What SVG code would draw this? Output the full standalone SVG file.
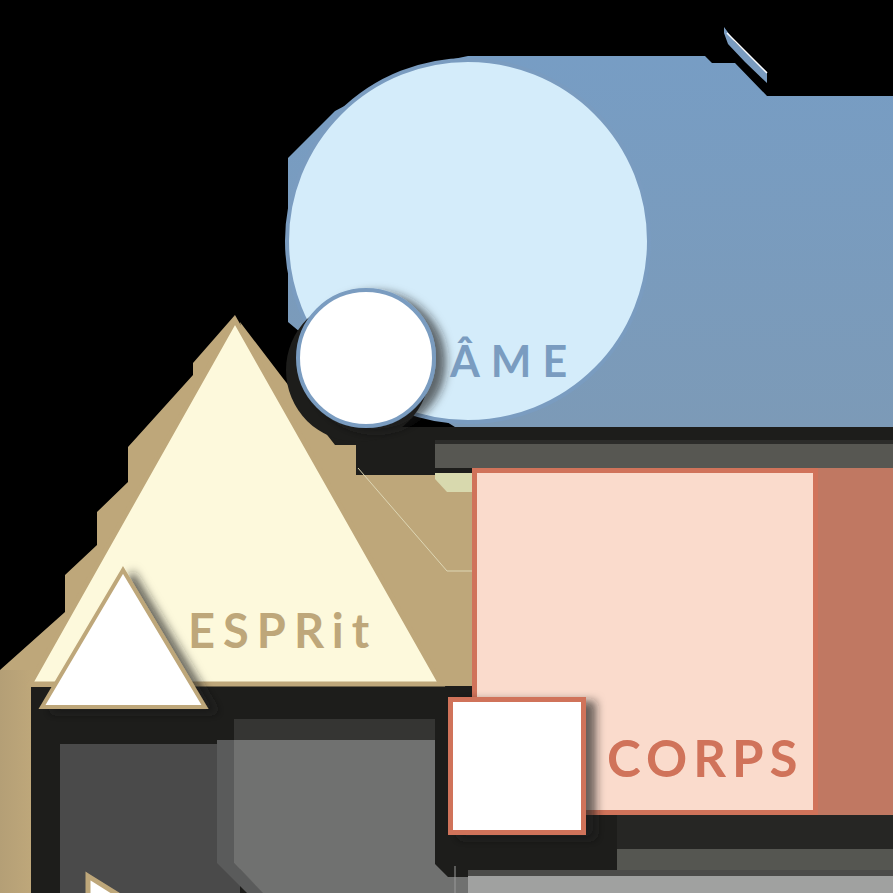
<svg xmlns="http://www.w3.org/2000/svg" width="893" height="893" viewBox="0 0 893 893">
<defs>
<style>
.lbl{font-family:Lato,"Liberation Sans",sans-serif;font-weight:700}
</style>
<linearGradient id="blueExt" x1="0" y1="0" x2="0" y2="1">
<stop offset="0" stop-color="#779dc4"/><stop offset="1" stop-color="#7c9ab7"/>
</linearGradient>
<linearGradient id="tanStrip" x1="0" y1="0" x2="1" y2="0">
<stop offset="0" stop-color="#b49f76"/><stop offset="1" stop-color="#bea77a"/>
</linearGradient>
<filter id="soft" x="-30%" y="-30%" width="160%" height="160%">
<feDropShadow dx="10" dy="4" stdDeviation="5" flood-color="#1d1d1b" flood-opacity="0.65"/>
</filter>
</defs>

<rect x="0" y="0" width="893" height="893" fill="#000"/>

<!-- blue extrusion -->
<polygon fill="url(#blueExt)" points="288,322 288,158 335,111 420,66 468,56 705,56 712,63 735,63 767,96 893,96 893,427 455,427 300,332"/>
<polygon fill="#7a9cc0" points="724,27 735,42 767,72 767,83 745,62 728,44 724,33"/>
<line x1="727" y1="33" x2="767" y2="73" stroke="#fff" stroke-width="1.5"/>

<!-- dark shadow base -->
<polygon fill="#1d1d1b" points="283,427 893,427 893,893 31,893 31,685 283,685"/>

<!-- tan extrusion of triangle -->
<polygon fill="#bea77a" points="235,315 193,363 193,375 128,447 128,482 97,512 97,545 65,575 65,612 0,670 0,893 31,893 31,687 120,687"/>
<rect x="0" y="670" width="31" height="223" fill="url(#tanStrip)"/>
<polygon fill="#bea77a" points="240,322 282,377 335,445 356,445 356,475 472,475 472,686 300,686"/>
<polygon fill="#d8d9ae" points="435,473 472,473 472,492 447,492 435,479"/>
<polyline points="358,468 447,571 472,571" fill="none" stroke="#ddd6b4" stroke-width="1"/>

<!-- bottom greys -->
<rect x="60" y="744" width="180" height="149" fill="#4a4a4a"/>
<rect x="234" y="719" width="201" height="21" fill="#353533"/>
<polygon fill="#5a5b5b" points="217,740 234,740 234,863 264,893 247,893 217,863"/>
<polygon fill="#707170" points="234,740 435,740 435,864 448,877 468,877 468,893 263,893 234,863"/>
<line x1="455" y1="866" x2="455" y2="893" stroke="#9a9b9a" stroke-width="1"/>
<rect x="617" y="815" width="276" height="34" fill="#262624"/>
<rect x="617" y="849" width="276" height="24" fill="#555651"/>
<rect x="468" y="870" width="425" height="6" fill="#4b4b49"/>
<rect x="468" y="876" width="425" height="17" fill="#a0a1a0"/>
<polygon fill="#fff" stroke="#bea77a" stroke-width="5" points="88,876 120,896 88,896"/>

<!-- grey band above square and coral extrusion -->
<rect x="435" y="440" width="458" height="28" fill="#575752"/>
<rect x="435" y="440" width="458" height="4" fill="#2c2c2a"/>
<rect x="818" y="468" width="75" height="347" fill="#c07862"/>

<!-- AME node -->
<g id="node-ame">
<circle cx="468" cy="241" r="181" fill="#d4ecfa" stroke="#7a9cc0" stroke-width="4"/>
<circle cx="358" cy="370" r="72" fill="#1d1d1b"/>
<circle cx="366" cy="358" r="68" fill="#fff" stroke="#7a9cc0" stroke-width="4" filter="url(#soft)"/>
<text class="lbl" x="450" y="377" font-size="43" letter-spacing="11" fill="#7a9cc0">ÂME</text>
</g>

<!-- ESPRIT node -->
<g id="node-esprit">
<polygon points="235,320 30,684 441,684" fill="#fdf9dc" stroke="#bea77a" stroke-width="5"/>
<polygon points="123,570 42,707 205,707" fill="#fff" stroke="#bea77a" stroke-width="4" filter="url(#soft)"/>
<text class="lbl" x="188" y="648" font-size="47" letter-spacing="8" fill="#bea77a">ESPRit</text>
</g>

<!-- CORPS node -->
<g id="node-corps">
<rect x="474.5" y="470.5" width="341" height="342" fill="#fadbcc" stroke="#d0735a" stroke-width="5"/>
<rect x="450.5" y="699.5" width="133" height="133" fill="#fff" stroke="#d0735a" stroke-width="5" filter="url(#soft)"/>
<text class="lbl" x="607" y="777" font-size="51" letter-spacing="6" fill="#d0735a">CORPS</text>
</g>

<g id="connectors"/>
</svg>
